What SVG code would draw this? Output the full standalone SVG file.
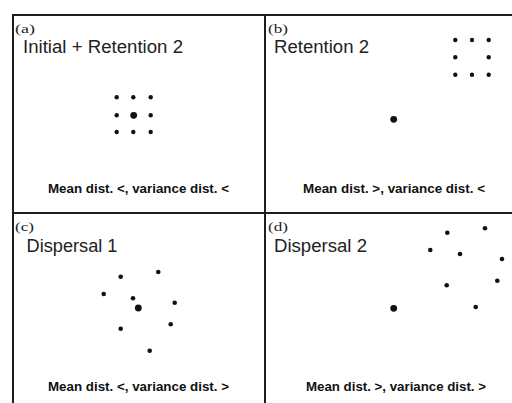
<svg xmlns="http://www.w3.org/2000/svg" width="512" height="403" viewBox="0 0 512 403">
<style>
.frame{stroke:#1e1e1e;stroke-width:2;fill:none}
.tag{font-family:"Liberation Serif",serif;font-size:13.5px;fill:#222}
.title{font-family:"Liberation Sans",Arial,sans-serif;font-size:17.5px;fill:#222}
.cap{font-family:"Liberation Sans",Arial,sans-serif;font-size:13.6px;font-weight:bold;fill:#111;text-anchor:middle}
.d{fill:#111}
</style>
<rect width="512" height="403" fill="#fff"/>
<g id="frame">
<path class="frame" d="M13 403V15H512M265 15V403M13 213H512"/>
</g>
<g id="panel-a">
<text class="tag" x="15" y="33" textLength="20" lengthAdjust="spacingAndGlyphs">(a)</text>
<text class="title" x="23" y="53" textLength="160" lengthAdjust="spacingAndGlyphs">Initial + Retention 2</text>
<circle class="d" cx="116.7" cy="97.3" r="2.2"/><circle class="d" cx="133.3" cy="97.3" r="2.2"/><circle class="d" cx="150.7" cy="97.3" r="2.2"/>
<circle class="d" cx="116.7" cy="115.3" r="2.2"/><circle class="d" cx="133.7" cy="115.3" r="3.4"/><circle class="d" cx="150.7" cy="115.3" r="2.2"/>
<circle class="d" cx="116.7" cy="132" r="2.2"/><circle class="d" cx="133.3" cy="132" r="2.2"/><circle class="d" cx="150.7" cy="132" r="2.2"/>
<text class="cap" x="138.5" y="193" textLength="181" lengthAdjust="spacingAndGlyphs">Mean dist. &lt;, variance dist. &lt;</text>
</g>
<g id="panel-b">
<text class="tag" x="268" y="33" textLength="20" lengthAdjust="spacingAndGlyphs">(b)</text>
<text class="title" x="274" y="53" textLength="95" lengthAdjust="spacingAndGlyphs">Retention 2</text>
<circle class="d" cx="455.3" cy="40" r="2.2"/><circle class="d" cx="472" cy="40" r="2.2"/><circle class="d" cx="488.7" cy="40" r="2.2"/>
<circle class="d" cx="455.3" cy="57.3" r="2.2"/><circle class="d" cx="488.7" cy="57.3" r="2.2"/>
<circle class="d" cx="455.3" cy="74.7" r="2.2"/><circle class="d" cx="472" cy="74.7" r="2.2"/><circle class="d" cx="488.7" cy="74.7" r="2.2"/>
<circle class="d" cx="393.7" cy="119.3" r="3.4"/>
<text class="cap" x="394" y="193" textLength="182" lengthAdjust="spacingAndGlyphs">Mean dist. &gt;, variance dist. &lt;</text>
</g>
<g id="panel-c">
<text class="tag" x="15" y="231" textLength="19" lengthAdjust="spacingAndGlyphs">(c)</text>
<text class="title" x="26.5" y="252" textLength="91" lengthAdjust="spacingAndGlyphs">Dispersal 1</text>
<circle class="d" cx="120.7" cy="276.7" r="2.3"/><circle class="d" cx="158.3" cy="272" r="2.3"/>
<circle class="d" cx="103.7" cy="294" r="2.3"/><circle class="d" cx="133" cy="298.3" r="2.3"/>
<circle class="d" cx="138.3" cy="308" r="3.4"/><circle class="d" cx="174.7" cy="302.7" r="2.3"/>
<circle class="d" cx="120.7" cy="328.7" r="2.3"/><circle class="d" cx="170.7" cy="324.3" r="2.3"/>
<circle class="d" cx="149.7" cy="350.7" r="2.3"/>
<text class="cap" x="138.5" y="391" textLength="181" lengthAdjust="spacingAndGlyphs">Mean dist. &lt;, variance dist. &gt;</text>
</g>
<g id="panel-d">
<text class="tag" x="268" y="231" textLength="20" lengthAdjust="spacingAndGlyphs">(d)</text>
<text class="title" x="274" y="252" textLength="93" lengthAdjust="spacingAndGlyphs">Dispersal 2</text>
<circle class="d" cx="447.3" cy="232.7" r="2.3"/><circle class="d" cx="485" cy="228.3" r="2.3"/>
<circle class="d" cx="430.3" cy="250" r="2.3"/><circle class="d" cx="460" cy="254" r="2.3"/>
<circle class="d" cx="502" cy="259" r="2.3"/><circle class="d" cx="446.7" cy="285.3" r="2.3"/>
<circle class="d" cx="497.3" cy="280.7" r="2.3"/><circle class="d" cx="393.7" cy="308.3" r="3.4"/>
<circle class="d" cx="475.7" cy="307" r="2.3"/>
<text class="cap" x="396" y="391" textLength="180" lengthAdjust="spacingAndGlyphs">Mean dist. &gt;, variance dist. &gt;</text>
</g>
</svg>
